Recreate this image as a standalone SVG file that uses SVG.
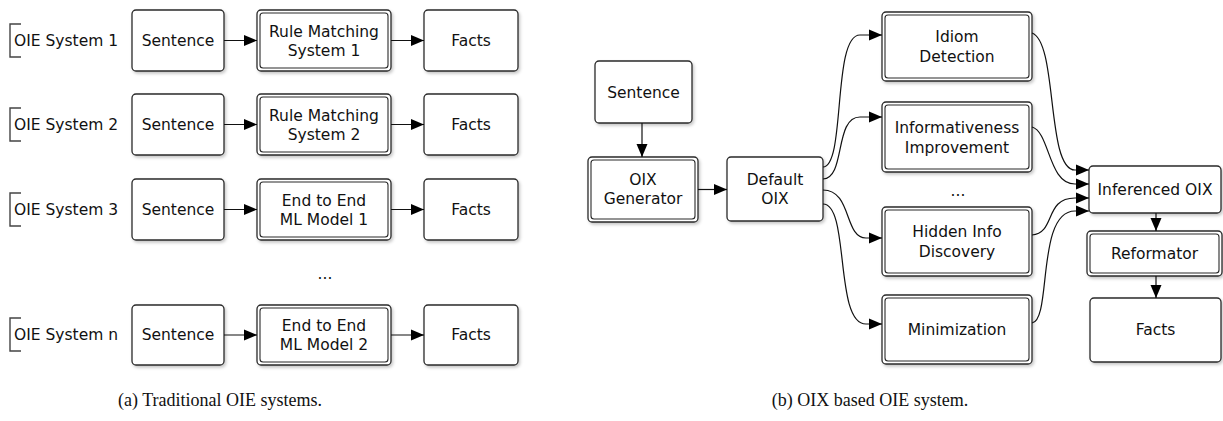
<svg xmlns="http://www.w3.org/2000/svg" width="1223" height="421" viewBox="0 0 1223 421">
<style>
.box{fill:#fff;stroke:#2a2a2a;stroke-width:1.3}
.inner{fill:none;stroke:#2a2a2a;stroke-width:1.1}
.t{font-family:"DejaVu Sans",Verdana,sans-serif;font-size:15.5px;fill:#111;text-anchor:middle}
.lbl{font-family:"DejaVu Sans",Verdana,sans-serif;font-size:15.5px;fill:#111}
.cap{font-family:"Liberation Serif","Times New Roman",serif;font-size:18px;fill:#111;text-anchor:middle}
.br{fill:none;stroke:#444;stroke-width:1.4}
.c{fill:none;stroke:#111;stroke-width:1.2;marker-end:url(#ah)}
</style>
<defs>
<marker id="ah" markerUnits="userSpaceOnUse" markerWidth="13" markerHeight="12" viewBox="0 0 13 12" refX="13" refY="6" orient="auto">
<path d="M0,0.5 L13,6 L0,11.5 z" fill="#000"/>
</marker>
<filter id="sh" x="-10%" y="-10%" width="125%" height="130%">
<feDropShadow dx="1.5" dy="2" stdDeviation="1.6" flood-color="#000" flood-opacity="0.22"/>
</filter>
</defs>

<!-- Left panel -->
<g id="row1">
<path class="br" d="M21,24 H10 V57 H21"/>
<text class="lbl" x="14" y="46">OIE System 1</text>
<g id="l-sentence1"><rect class="box" filter="url(#sh)" x="132" y="10" width="92" height="61" rx="4"/><text class="t" x="178" y="46">Sentence</text></g>
<g id="l-rule1"><rect class="box" filter="url(#sh)" x="257" y="10" width="134" height="61" rx="4"/><rect class="inner" x="260" y="13" width="128" height="55" rx="3"/><text class="t" x="324" y="36.5">Rule Matching</text><text class="t" x="324" y="55.5">System 1</text></g>
<g id="l-facts1"><rect class="box" filter="url(#sh)" x="424" y="10" width="94" height="61" rx="4"/><text class="t" x="471" y="46">Facts</text></g>
</g>

<g id="row2">
<path class="br" d="M21,108 H10 V141 H21"/>
<text class="lbl" x="14" y="130">OIE System 2</text>
<g id="l-sentence2"><rect class="box" filter="url(#sh)" x="132" y="94" width="92" height="61" rx="4"/><text class="t" x="178" y="130">Sentence</text></g>
<g id="l-rule2"><rect class="box" filter="url(#sh)" x="257" y="94" width="134" height="61" rx="4"/><rect class="inner" x="260" y="97" width="128" height="55" rx="3"/><text class="t" x="324" y="120.5">Rule Matching</text><text class="t" x="324" y="139.5">System 2</text></g>
<g id="l-facts2"><rect class="box" filter="url(#sh)" x="424" y="94" width="94" height="61" rx="4"/><text class="t" x="471" y="130">Facts</text></g>
</g>

<g id="row3">
<path class="br" d="M21,193 H10 V226 H21"/>
<text class="lbl" x="14" y="215">OIE System 3</text>
<g id="l-sentence3"><rect class="box" filter="url(#sh)" x="132" y="179" width="92" height="61" rx="4"/><text class="t" x="178" y="215">Sentence</text></g>
<g id="l-e2e1"><rect class="box" filter="url(#sh)" x="257" y="179" width="134" height="61" rx="4"/><rect class="inner" x="260" y="182" width="128" height="55" rx="3"/><text class="t" x="324" y="205.5">End to End</text><text class="t" x="324" y="224.5">ML Model 1</text></g>
<g id="l-facts3"><rect class="box" filter="url(#sh)" x="424" y="179" width="94" height="61" rx="4"/><text class="t" x="471" y="215">Facts</text></g>
</g>

<text id="l-dots" class="t" x="325" y="279">...</text>

<g id="rown">
<path class="br" d="M21,318 H10 V351 H21"/>
<text class="lbl" x="14" y="340">OIE System n</text>
<g id="l-sentencen"><rect class="box" filter="url(#sh)" x="132" y="305" width="92" height="60" rx="4"/><text class="t" x="178" y="340">Sentence</text></g>
<g id="l-e2e2"><rect class="box" filter="url(#sh)" x="257" y="305" width="134" height="60" rx="4"/><rect class="inner" x="260" y="308" width="128" height="54" rx="3"/><text class="t" x="324" y="331">End to End</text><text class="t" x="324" y="350">ML Model 2</text></g>
<g id="l-factsn"><rect class="box" filter="url(#sh)" x="424" y="305" width="94" height="60" rx="4"/><text class="t" x="471" y="340">Facts</text></g>
</g>

<!-- Right panel -->
<g id="r-sentence"><rect class="box" filter="url(#sh)" x="595" y="61" width="97" height="62" rx="4"/><text class="t" x="643.5" y="97.5">Sentence</text></g>
<g id="r-oixgen"><rect class="box" filter="url(#sh)" x="588" y="157" width="110" height="65" rx="4"/><rect class="inner" x="591" y="160" width="104" height="59" rx="3"/><text class="t" x="643" y="184.5">OIX</text><text class="t" x="643" y="204">Generator</text></g>
<g id="r-default"><rect class="box" filter="url(#sh)" x="727" y="157" width="96" height="64" rx="4"/><text class="t" x="775" y="184.5">Default</text><text class="t" x="775" y="204">OIX</text></g>
<g id="r-idiom"><rect class="box" filter="url(#sh)" x="882" y="12" width="150" height="69" rx="4"/><rect class="inner" x="885" y="15" width="144" height="63" rx="3"/><text class="t" x="957" y="42">Idiom</text><text class="t" x="957" y="62">Detection</text></g>
<g id="r-inform"><rect class="box" filter="url(#sh)" x="882" y="102" width="150" height="70" rx="4"/><rect class="inner" x="885" y="105" width="144" height="64" rx="3"/><text class="t" x="957" y="133">Informativeness</text><text class="t" x="957" y="153">Improvement</text></g>
<text id="r-dots" class="t" x="958" y="196">...</text>
<g id="r-hidden"><rect class="box" filter="url(#sh)" x="882" y="207" width="150" height="69" rx="4"/><rect class="inner" x="885" y="210" width="144" height="63" rx="3"/><text class="t" x="957" y="237">Hidden Info</text><text class="t" x="957" y="257">Discovery</text></g>
<g id="r-minim"><rect class="box" filter="url(#sh)" x="882" y="295" width="150" height="69" rx="4"/><rect class="inner" x="885" y="298" width="144" height="63" rx="3"/><text class="t" x="957" y="335">Minimization</text></g>
<g id="r-inferenced"><rect class="box" filter="url(#sh)" x="1089" y="166" width="132" height="47" rx="4"/><text class="t" x="1155" y="195">Inferenced OIX</text></g>
<g id="r-reformator"><rect class="box" filter="url(#sh)" x="1087" y="231" width="135" height="45" rx="4"/><rect class="inner" x="1090" y="234" width="129" height="39" rx="3"/><text class="t" x="1154.5" y="259">Reformator</text></g>
<g id="r-facts"><rect class="box" filter="url(#sh)" x="1090" y="298" width="131" height="64" rx="4"/><text class="t" x="1155.5" y="335">Facts</text></g>

<g id="connectors">
<path class="c" d="M224,40.5 H257"/>
<path class="c" d="M391,40.5 H424"/>
<path class="c" d="M224,124.5 H257"/>
<path class="c" d="M391,124.5 H424"/>
<path class="c" d="M224,209.5 H257"/>
<path class="c" d="M391,209.5 H424"/>
<path class="c" d="M224,335 H257"/>
<path class="c" d="M391,335 H424"/>

<path class="c" d="M642,123 V157"/>
<path class="c" d="M698,189.5 H727"/>
<path class="c" d="M823,167 C846,166 832,35 860,35 L882,35"/>
<path class="c" d="M823,179 C846,178 834,117 860,117 L882,117"/>
<path class="c" d="M823,190 C852,190 844,238 866,238 L882,238"/>
<path class="c" d="M823,204 C850,204 834,324 866,324 L882,324"/>
<path class="c" d="M1032,33 C1058,42 1046,170 1075,170 L1089,170"/>
<path class="c" d="M1032,127 C1050,132 1048,184 1075,184 L1089,184"/>
<path class="c" d="M1032,235 C1056,233 1044,198 1075,198 L1089,198"/>
<path class="c" d="M1032,323 C1052,320 1036,211 1075,211 L1089,211"/>
<path class="c" d="M1156,213 V231"/>
<path class="c" d="M1156,276 V298"/>
</g>

<text id="cap-a" class="cap" x="220" y="406">(a) Traditional OIE systems.</text>
<text id="cap-b" class="cap" x="870" y="406">(b) OIX based OIE system.</text>
</svg>
